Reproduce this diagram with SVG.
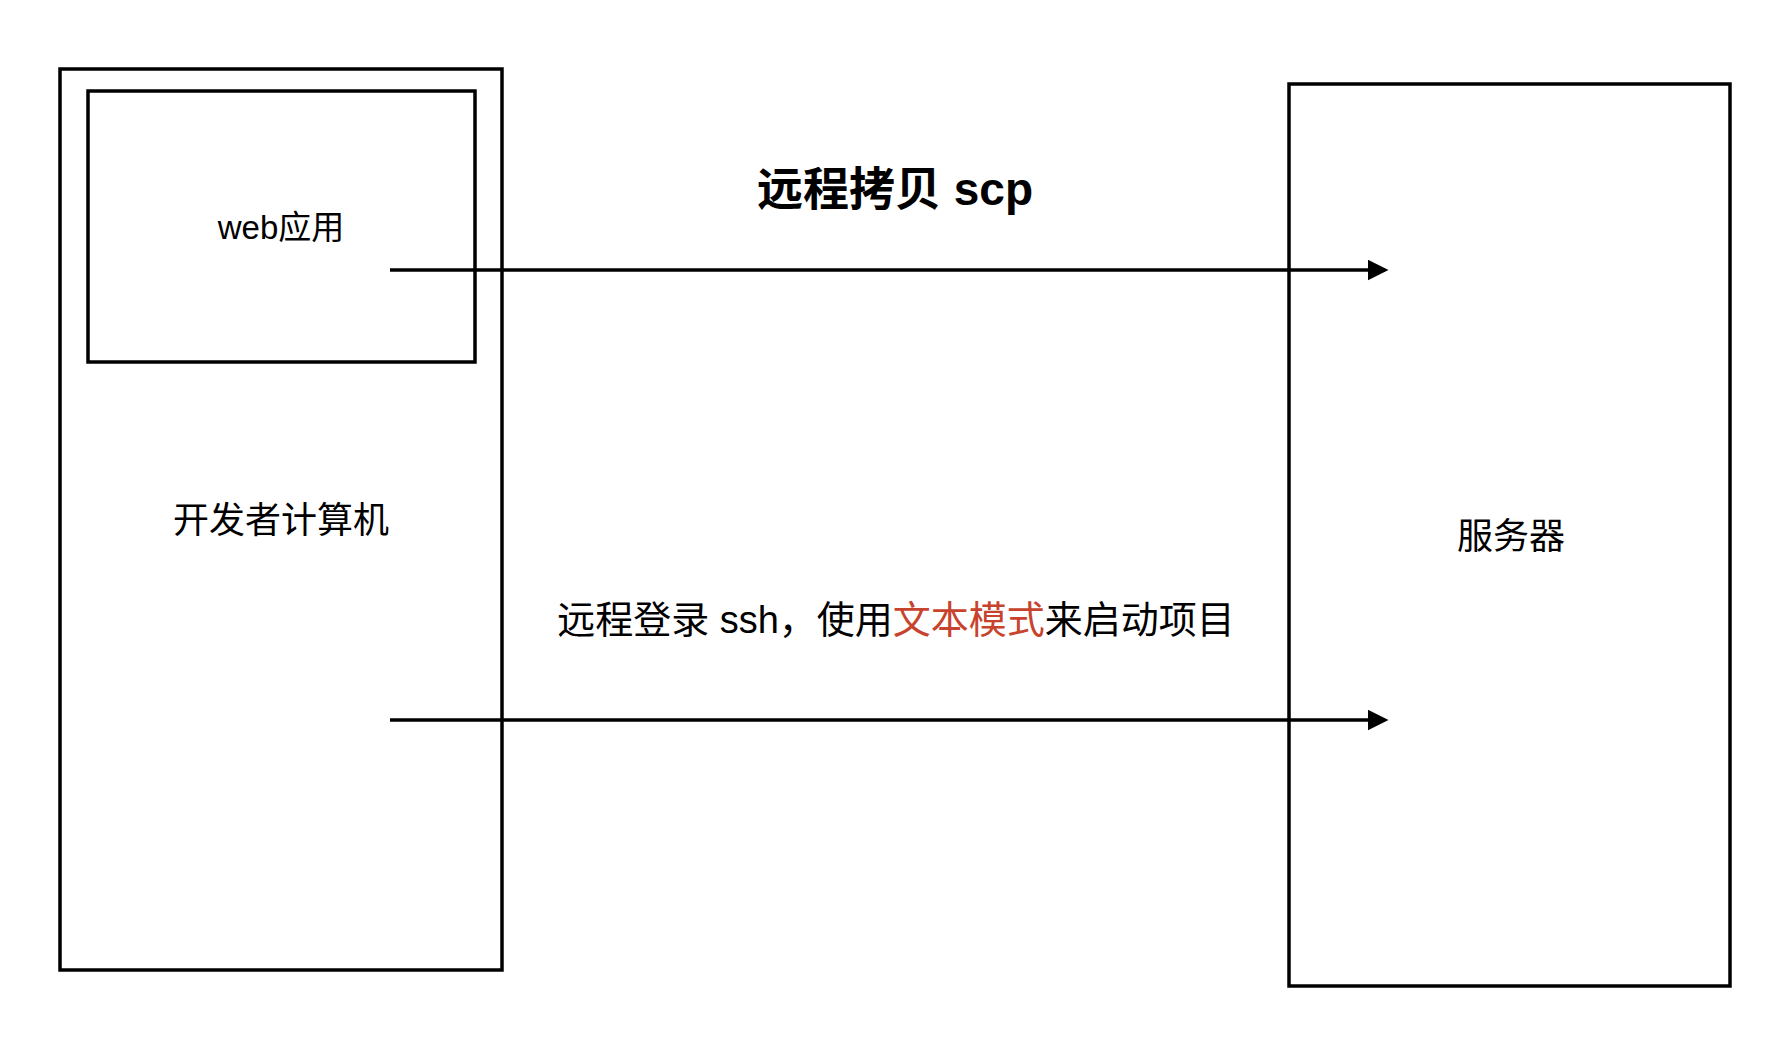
<svg xmlns="http://www.w3.org/2000/svg" width="1772" height="1056" viewBox="0 0 1772 1056">
<style>
.box{fill:none;stroke:#000;stroke-width:3.5}
.t{font-family:"Liberation Sans","Noto Sans CJK SC",sans-serif;fill:#000;text-anchor:middle}
.c{stroke:#000;stroke-width:3.5;fill:none}
</style>
<defs><marker id="ah" markerWidth="6" markerHeight="6" refX="5" refY="3" orient="auto"><path d="M0,0 L6,3 L0,6 z" fill="#000"/></marker></defs>
<rect width="1772" height="1056" fill="#fff"/>
<g id="dev"><rect class="box" x="60" y="69" width="442" height="901"/><text class="t" x="281" y="533" font-size="36">开发者计算机</text></g>
<g id="web"><rect class="box" x="88" y="91" width="387" height="271"/><text class="t" x="281" y="239" font-size="33">web应用</text></g>
<g id="server"><rect class="box" x="1289" y="84" width="441" height="902"/><text class="t" x="1511" y="549" font-size="36">服务器</text></g>
<g id="connectors">
<line class="c" x1="390" y1="270" x2="1385" y2="270" marker-end="url(#ah)"/>
<line class="c" x1="390" y1="720" x2="1385" y2="720" marker-end="url(#ah)"/>
</g>
<text class="t" x="895" y="205" font-size="46" font-weight="bold">远程拷贝 scp</text>
<text class="t" x="896" y="633" font-size="38">远程登录 ssh，使用<tspan fill="#c8432d">文本模式</tspan>来启动项目</text>
</svg>
